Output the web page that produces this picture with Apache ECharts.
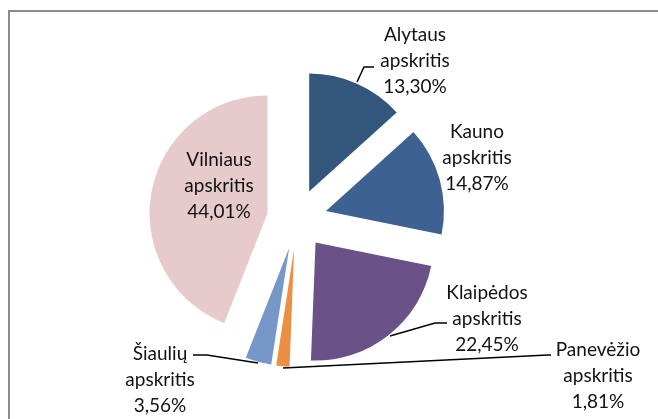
<!DOCTYPE html>
<html>
<head>
<meta charset="utf-8">
<script src="https://cdn.jsdelivr.net/npm/echarts@6/dist/echarts.min.js"></script>
<style>
  html, body { margin: 0; padding: 0; background: #fff; }
  #chart { width: 658px; height: 419px; }
</style>
</head>
<body>
<div id="chart"></div>
<script>
const regions = ['Alytaus apskritis', 'Kauno apskritis', 'Klaipėdos apskritis', 'Panevėžio apskritis', 'Šiaulių apskritis', 'Vilniaus apskritis']
const shares = [13.30, 14.87, 22.45, 1.81, 3.56, 44.01]
const colors = ['#33577C', '#3D6291', '#6A5188', '#EB8F43', '#7698C8', '#E7CBCC']

// centre of each label block, and leader line points (null = no line)
const labelPos = [[415, 61], [477, 158], [487, 319], [598, 376], [160, 380], [219, 186]]
const leaderLines = [
  [[357, 82], [364, 67], [374, 67]],
  null,
  [[390, 336], [435, 323], [447, 323]],
  [[283, 368], [548, 355], [551, 355]],
  [[258, 363], [207, 355], [193, 355]],
  null
]

const pieCenter = [297, 219]
const pieRadius = 118
const explode = 30

const chart = echarts.init(document.getElementById('chart'))

const fmt = (v) => v.toFixed(2).replace('.', ',') + '%'
const total = shares.reduce((a, b) => a + b, 0)

// one pie per slice, each shifted out along its own mid angle (exploded pie)
let acc = 0
const series = regions.map((name, i) => {
  const mid = (acc + shares[i] / 2) / total * 2 * Math.PI
  acc += shares[i]
  const cx = pieCenter[0] + explode * Math.sin(mid)
  const cy = pieCenter[1] - explode * Math.cos(mid)
  return {
    type: 'pie',
    center: [cx, cy],
    radius: pieRadius,
    startAngle: 90,
    clockwise: true,
    avoidLabelOverlap: false,
    silent: true,
    label: {
      show: true,
      position: 'outside',
      color: '#111',
      fontFamily: 'Lato',
      fontSize: 19,
      lineHeight: 26,
      align: 'center',
      formatter: (p) => p.name.replace(' ', '\n') + '\n' + fmt(p.value)
    },
    labelLine: {
      show: leaderLines[i] !== null,
      lineStyle: { color: '#000', width: 1.5 }
    },
    labelLayout: (params) => {
      const res = {
        x: labelPos[i][0],
        y: labelPos[i][1],
        align: 'center',
        verticalAlign: 'middle'
      }
      if (leaderLines[i]) res.labelLinePoints = leaderLines[i]
      return res
    },
    data: regions.map((n, j) => ({
      name: n,
      value: shares[j],
      itemStyle: { color: j === i ? colors[j] : 'rgba(0,0,0,0)' },
      label: { show: j === i },
      labelLine: { show: j === i && leaderLines[i] !== null }
    }))
  }
})

chart.setOption({
  animation: false,
  graphic: [{
    type: 'rect',
    shape: { x: 9, y: 11, width: 700, height: 500 },
    style: { fill: 'none', stroke: '#8c8c8c', lineWidth: 2 },
    silent: true
  }],
  series: series
})
</script>
</body>
</html>
